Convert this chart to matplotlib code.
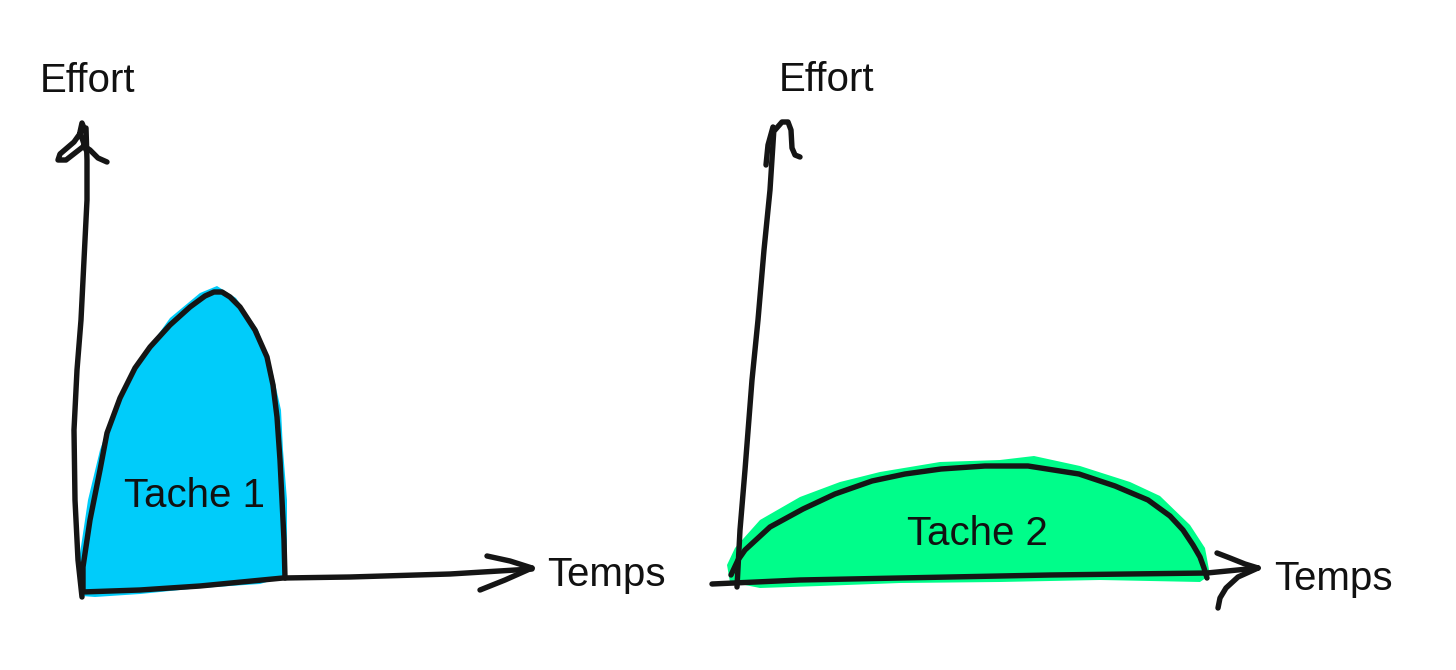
import matplotlib
import matplotlib.pyplot as plt

matplotlib.use('Agg')

# tout est en pixels de l'image (y vers le bas)
W, H = 1456, 670

# Tache 1 : courbe et remplissage bleu
tache1_x = [83, 83, 90, 100, 107, 120, 135, 150, 170, 190, 205, 214, 222, 230, 240, 255, 267, 273, 277, 280, 282, 284, 285]
tache1_y = [590, 567, 520, 470, 433, 398, 368, 347, 325, 307, 296, 292, 292, 297, 307, 330, 357, 385, 417, 460, 500, 540, 578]
bleu_x = [82, 79, 88, 100, 116, 140, 170, 200, 217, 236, 258, 272, 281, 283, 287, 287, 260, 200, 140, 95]
bleu_y = [596, 560, 500, 450, 405, 360, 318, 293, 286, 298, 330, 370, 410, 450, 500, 576, 584, 588, 594, 597]

# Tache 2 : courbe et remplissage vert
tache2_x = [731, 738, 745, 770, 803, 835, 872, 905, 941, 985, 1028, 1079, 1115, 1148, 1170, 1183, 1193, 1200, 1204, 1207]
tache2_y = [575, 560, 550, 527, 509, 494, 481, 474, 469, 466, 466, 474, 486, 500, 516, 530, 545, 557, 568, 578]
vert_x = [727, 735, 760, 800, 840, 880, 940, 1000, 1034, 1080, 1130, 1160, 1190, 1205, 1210, 1200, 1100, 1000, 900, 820, 760, 730]
vert_y = [565, 548, 520, 497, 482, 472, 462, 460, 456, 466, 482, 496, 525, 548, 575, 582, 580, 582, 583, 586, 588, 582]

# axes dessinés à la main
axe_y1_x = [82, 78, 75, 74, 77, 81, 84, 87, 87, 86]
axe_y1_y = [597, 560, 500, 430, 370, 320, 260, 200, 160, 128]
axe_x1_x = [82, 140, 200, 283, 350, 450, 532]
axe_x1_y = [592, 590, 586, 578, 577, 574, 569]
axe_y2_x = [737, 740, 745, 752, 758, 764, 770, 774]
axe_y2_y = [587, 530, 470, 380, 320, 250, 190, 128]
axe_x2_x = [712, 800, 900, 1050, 1207, 1258]
axe_x2_y = [584, 580, 578, 575, 573, 568]

# pointes de flèches
fleche_y1_x = [86, 80, 82, 84, 74, 60, 58, 66, 84, 90, 98, 107]
fleche_y1_y = [150, 132, 123, 128, 142, 154, 160, 160, 146, 150, 158, 162]
fleche_x1a_x = [487, 510, 532]
fleche_x1a_y = [556, 561, 568]
fleche_x1b_x = [480, 505, 532]
fleche_x1b_y = [590, 580, 568]
fleche_y2a_x = [766, 768, 773]
fleche_y2a_y = [165, 145, 127]
fleche_y2b_x = [775, 782, 788, 791, 792, 795, 800]
fleche_y2b_y = [130, 122, 122, 130, 148, 155, 157]
fleche_x2a_x = [1217, 1230, 1245, 1258]
fleche_x2a_y = [553, 558, 564, 568]
fleche_x2b_x = [1218, 1220, 1226, 1238, 1258]
fleche_x2b_y = [608, 598, 588, 577, 568]

textes = [
    ("Effort", 40, 92, "left"),
    ("Temps", 547, 586, "left"),
    ("Effort", 779, 91, "left"),
    ("Temps", 1274, 590, "left"),
    ("Tache 1", 195, 507, "center"),
    ("Tache 2", 977, 545, "center"),
]

fig = plt.figure(figsize=(W / 100, H / 100), dpi=100)
ax = fig.add_axes([0, 0, 1, 1])
ax.set_xlim(0, W)
ax.set_ylim(H, 0)
ax.axis('off')

# remplissages (façon feutre)
ax.fill(bleu_x, bleu_y, color='#00ccfa', lw=0, zorder=1)
ax.fill(vert_x, vert_y, color='#00fd8a', lw=0, zorder=1)

trait = dict(color='#151515', lw=3.9, solid_capstyle='round', solid_joinstyle='round', zorder=3)
for xs, ys in [(tache1_x, tache1_y), (tache2_x, tache2_y),
               (axe_y1_x, axe_y1_y), (axe_x1_x, axe_x1_y),
               (axe_y2_x, axe_y2_y), (axe_x2_x, axe_x2_y),
               (fleche_y1_x, fleche_y1_y), (fleche_x1a_x, fleche_x1a_y),
               (fleche_x1b_x, fleche_x1b_y), (fleche_y2a_x, fleche_y2a_y),
               (fleche_y2b_x, fleche_y2b_y), (fleche_x2a_x, fleche_x2a_y),
               (fleche_x2b_x, fleche_x2b_y)]:
    ax.plot(xs, ys, **trait)

for txt, x, y, ha in textes:
    ax.text(x, y, txt, fontsize=29, family=['Liberation Sans', 'DejaVu Sans'],
            color='#111111', ha=ha, va='baseline', zorder=4)

fig.savefig('out.png', dpi=100, facecolor='white')
plt.close(fig)
